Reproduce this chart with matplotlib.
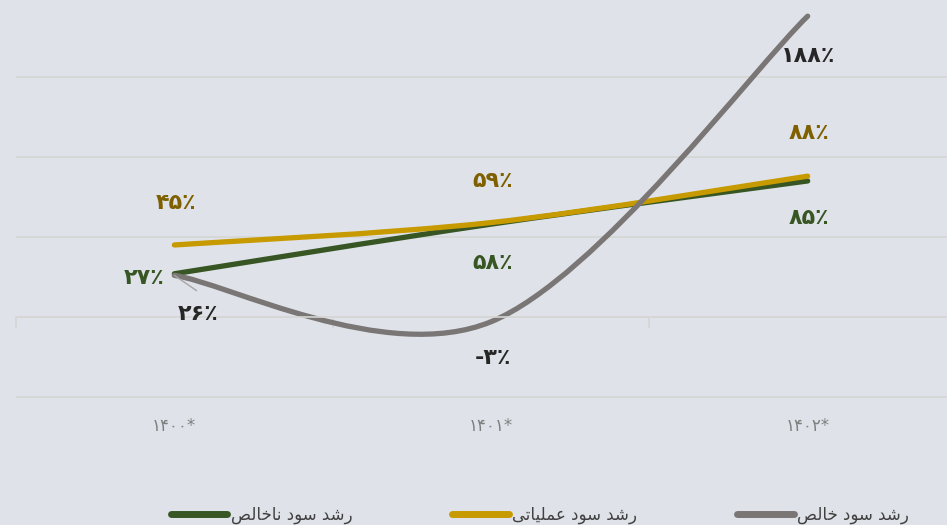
import matplotlib.pyplot as plt
from matplotlib.path import Path
from matplotlib.patches import PathPatch
from matplotlib.lines import Line2D

plt.rcParams['font.family'] = ['DejaVu Sans']

# داده‌ها
years = ['۱۴۰۰*', '۱۴۰۱*', '۱۴۰۲*']
gross = [27, 58, 85]       # رشد سود ناخالص
operating = [45, 59, 88]   # رشد سود عملیاتی
net = [26, -3, 188]        # رشد سود خالص
names = ['رشد سود ناخالص', 'رشد سود عملیاتی', 'رشد سود خالص']

bg = '#dfe3e9'
grid_c = '#d5d6d5'
line_colors = ['#375623', '#c79a00', '#7a7675']
label_colors = ['#375623', '#7f6000', '#262626']

# فرم‌های نمایشی حروف برای اتصال درست
FORMS = {
    'ر': ('\uFEAD', '\uFEAE', None, None),
    'د': ('\uFEA9', '\uFEAA', None, None),
    'و': ('\uFEED', '\uFEEE', None, None),
    'ا': ('\uFE8D', '\uFE8E', None, None),
    'ش': ('\uFEB5', '\uFEB6', '\uFEB7', '\uFEB8'),
    'س': ('\uFEB1', '\uFEB2', '\uFEB3', '\uFEB4'),
    'ن': ('\uFEE5', '\uFEE6', '\uFEE7', '\uFEE8'),
    'خ': ('\uFEA5', '\uFEA6', '\uFEA7', '\uFEA8'),
    'ل': ('\uFEDD', '\uFEDE', '\uFEDF', '\uFEE0'),
    'ص': ('\uFEB9', '\uFEBA', '\uFEBB', '\uFEBC'),
    'ع': ('\uFEC9', '\uFECA', '\uFECB', '\uFECC'),
    'م': ('\uFEE1', '\uFEE2', '\uFEE3', '\uFEE4'),
    'ی': ('\uFBFC', '\uFBFD', '\uFBFE', '\uFBFF'),
    'ت': ('\uFE95', '\uFE96', '\uFE97', '\uFE98'),
}


def shape(s):
    out = []
    for i, ch in enumerate(s):
        if ch not in FORMS:
            out.append(ch)
            continue
        prev = s[i - 1] if i > 0 else ''
        nxt = s[i + 1] if i + 1 < len(s) else ''
        jp = prev in FORMS and FORMS[prev][2] is not None
        jn = nxt in FORMS and FORMS[ch][2] is not None
        f = FORMS[ch]
        if jp and jn:
            out.append(f[3])
        elif jp:
            out.append(f[1])
        elif jn:
            out.append(f[2])
        else:
            out.append(f[0])
    return ''.join(out[::-1])


def fa(v):
    d = '۰۱۲۳۴۵۶۷۸۹'
    s = ''.join(d[int(c)] for c in str(abs(v)))
    return ('-' if v < 0 else '') + s + '٪'


def smooth_path(xs, ys):
    # منحنی هموار (Catmull-Rom به شکل بزیه)
    n = len(xs)
    verts = [(xs[0], ys[0])]
    codes = [Path.MOVETO]
    for i in range(n - 1):
        i0 = max(i - 1, 0)
        i3 = min(i + 2, n - 1)
        c1 = (xs[i] + (xs[i + 1] - xs[i0]) / 6, ys[i] + (ys[i + 1] - ys[i0]) / 6)
        c2 = (xs[i + 1] - (xs[i3] - xs[i]) / 6, ys[i + 1] - (ys[i3] - ys[i]) / 6)
        verts += [c1, c2, (xs[i + 1], ys[i + 1])]
        codes += [Path.CURVE4] * 3
    return Path(verts, codes)


fig = plt.figure(figsize=(9.47, 5.25), dpi=100)
fig.patch.set_facecolor(bg)
ax = fig.add_axes([16 / 947, 125 / 525, 931 / 947, 400 / 525])
ax.set_facecolor(bg)

for s in ['top', 'right', 'left']:
    ax.spines[s].set_visible(False)
ax.spines['bottom'].set_position(('data', 0))
ax.spines['bottom'].set_color(grid_c)
ax.spines['bottom'].set_linewidth(1.2)

ax.set_yticks([-50, 0, 50, 100, 150])
ax.tick_params(axis='y', length=0, labelleft=False)
ax.grid(axis='y', color=grid_c, linewidth=1.2)
ax.set_axisbelow(True)

x = list(range(len(years)))
ax.set_xticks(x)
ax.set_xticklabels(years)
ax.set_xticks([-0.5, 0.5, 1.5, 2.5], minor=True)
ax.tick_params(axis='x', which='major', length=0, pad=72, labelsize=12, labelcolor='#7f7f7f')
ax.tick_params(axis='x', which='minor', length=8, width=1.2, color=grid_c, direction='out')
ax.set_xlim(-0.5, 2.44)
ax.set_ylim(-51.9, 198.1)

series = [gross, operating, net]
# جای برچسب‌ها (پیکسل نسبت به نقطه)
offsets = [
    [(-30, -4), (2, -39), (1, -37)],
    [(2, 42), (2, 42), (1, 43)],
    [(24, -39), (2, -36), (0, -40)],
]

for vals, c in zip(series, line_colors):
    ax.add_patch(PathPatch(smooth_path(x, vals), fill=False, edgecolor=c,
                           linewidth=3.8, capstyle='round', joinstyle='round'))

for vals, offs, c in zip(series, offsets, label_colors):
    for xi, v, (dx, dy) in zip(x, vals, offs):
        ax.annotate(fa(v), (xi, v), xytext=(dx * 0.72, dy * 0.72), textcoords='offset points',
                    ha='center', va='center', fontsize=16, fontweight='bold', color=c)

# خط راهنمای برچسب ۲۶٪
ax.annotate('', (x[0], net[0]), xytext=(16, -11), textcoords='offset points',
            arrowprops=dict(arrowstyle='-', color='#a6a6a6', lw=1, shrinkA=0, shrinkB=0))

handles = [Line2D([], [], color=c, linewidth=5, solid_capstyle='round') for c in line_colors]
fig.legend(handles, [shape(n) for n in names], loc='center', bbox_to_anchor=(540 / 947, 1 - 515 / 525),
           ncol=3, frameon=False, fontsize=12, handlelength=3.4, handletextpad=0.2,
           columnspacing=6.0, labelcolor='#404040')

fig.savefig('out.png', dpi=100, facecolor=bg)
